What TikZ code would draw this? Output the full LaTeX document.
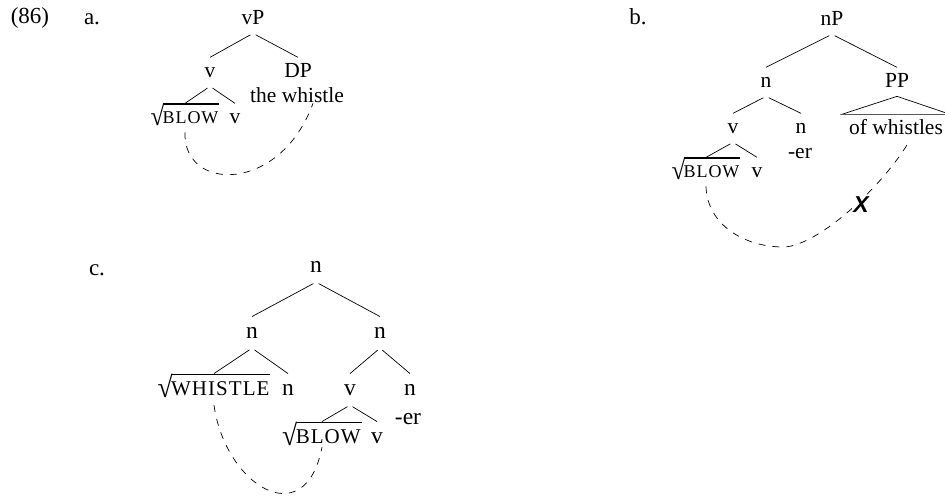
\documentclass[tikz,border=0pt]{standalone}
\usepackage{fontspec}
\setmainfont{Liberation Serif}
\newfontfamily\scfont[LetterSpace=5]{Liberation Serif}
\newfontfamily\xfont{Liberation Sans}
\usepackage{tikz}
\usetikzlibrary{arrows.meta, positioning, calc}
\newcommand{\tfont}{\fontsize{21.5}{26}\selectfont}
\newcommand{\cfont}{\fontsize{23.5}{28}\selectfont}
\newlength{\rtht}
\newsavebox{\rtbox}
\newcommand{\rootof}[2]{\mbox{\sbox{\rtbox}{\scfont\fontsize{#1}{#1}\selectfont #2\kern1pt}%
  \setlength{\rtht}{\dimexpr\ht\rtbox+7.6pt\relax}%
  \raisebox{-2pt}{\resizebox*{0.7\rtht}{\dimexpr\rtht+2pt\relax}{√}}\kern-1.5pt
  \vbox{\hrule height 1.6pt\kern 6pt\box\rtbox}}}

\begin{document}
\begin{tikzpicture}[x=1pt, y=-1pt, line width=0.7pt,
    lab/.style={font=\tfont, anchor=base, inner xsep=2pt, inner ysep=4.7pt,
      text height=14.6pt, text depth=4.3pt},
    labc/.style={lab, font=\cfont, inner ysep=5.1pt, text height=16pt, text depth=4.7pt},
    exlab/.style={font=\fontsize{23}{27}\selectfont, anchor=base, inner sep=0pt},
    br/.style={shorten <=3pt},
    link/.style={dash pattern=on 7pt off 7pt}]
  \useasboundingbox (0,0) rectangle (945,498);
  \node[exlab] (ex) at (30,23) {(86)};
  \node[exlab] (la) at (92,24) {a.};
  \node[exlab] (lb) at (638,24) {b.};
  \node[exlab] (lc) at (97,275) {c.};
  % a.
  \foreach \nm/\x/\y/\t in {vPa/253/24/vP, va/210/77/v, DPa/298/77/DP,
      whistle/297/102/the whistle, va2/235/123/v}
    \node[lab] (\nm) at (\x,\y) {\t};
  \node[lab] (rta) at (185,123) {\rootof{18pt}{BLOW}};
  \foreach \p/\c in {vPa/va, vPa/DPa, va/rta, va/va2}
    \draw[br] (\p.south) -- (\c.north);
  \draw[link] (rta.south) .. controls (183,192) and (280,194) .. ([xshift=16pt,yshift=8pt]whistle.south);
  % b.
  \foreach \nm/\x/\y/\t in {nPb/832/25/nP, nb/766/87/n, PPb/897/87/PP,
      vb/733/133/v, nb2/801/133/n, erb/800/158/-er, vb2/757/177/v}
    \node[lab] (\nm) at (\x,\y) {\t};
  \node[lab, inner xsep=7pt] (ofw) at (896,134) {of whistles};
  \node[lab] (rtb) at (706,177) {\rootof{18pt}{BLOW}};
  \foreach \p/\c in {nPb/nb, nPb/PPb, nb/vb, nb/nb2, vb/rtb, vb/vb2}
    \draw[br] (\p.south) -- (\c.north);
  \draw (PPb.south) -- (ofw.north west) -- (ofw.north east) -- cycle;
  \draw[link] (rtb.south) .. controls (707,225) and (745,247) .. (783,247)
    .. controls (815,247) and (878,192) .. ([xshift=12pt]ofw.south);
  \node[font=\xfont\fontsize{23}{27}\bfseries\itshape\selectfont, anchor=base,
    fill=white, inner sep=1.5pt] (cross) at (861,212) {X};
  % c.
  \foreach \nm/\x/\y/\t in {nc/316/272/n, nc1/252/338/n, nc2/380/338/n,
      nc3/288/395/n, vc/350/395/v, nc4/410/395/n, erc/408/424/-er, vc2/377/443/v}
    \node[labc] (\nm) at (\x,\y) {\t};
  \node[labc] (rtw) at (214,395) {\rootof{21pt}{WHISTLE}};
  \node[labc] (rtc) at (322,443) {\rootof{21pt}{BLOW}};
  \foreach \p/\c in {nc/nc1, nc/nc2, nc1/rtw, nc1/nc3, nc2/vc, nc2/nc4, vc/rtc, vc/vc2}
    \draw[br] (\p.south) -- (\c.north);
  \draw[link] (rtw.south) .. controls (225,485) and (305,535) .. ([yshift=6pt]rtc.south);
\end{tikzpicture}
\end{document}
